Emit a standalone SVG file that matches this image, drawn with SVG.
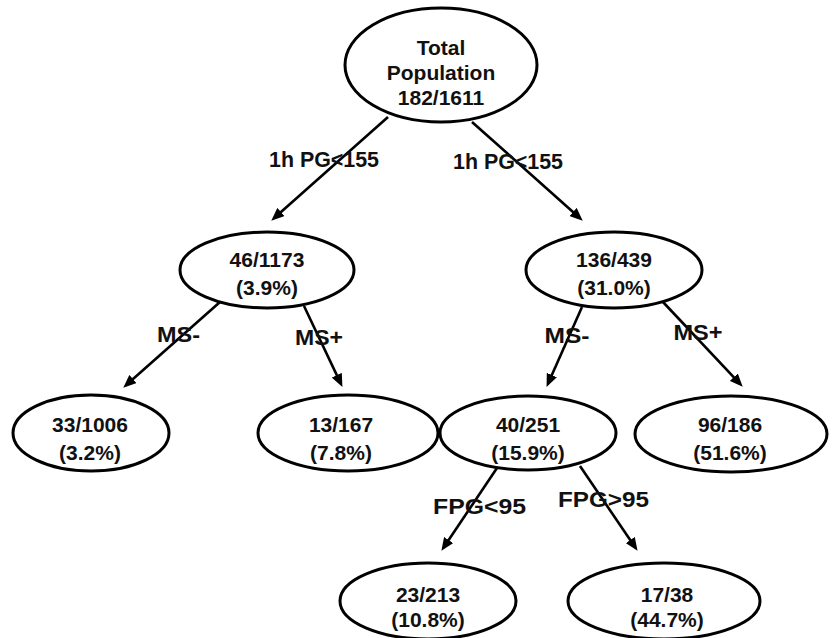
<svg xmlns="http://www.w3.org/2000/svg" width="835" height="638" viewBox="0 0 835 638">
<style>
  .node { fill: #ffffff; stroke: #000000; stroke-width: 3; }
  .t { font-family: "Liberation Sans", Arial, sans-serif; font-weight: bold; font-size: 21px; fill: #111111; text-anchor: middle; }
  .lbl { font-family: "Liberation Sans", Arial, sans-serif; font-weight: bold; font-size: 22px; fill: #111111; text-anchor: middle; }
  .edge { stroke: #000000; stroke-width: 2.6; fill: none; marker-end: url(#arrow); }
</style>
<defs>
  <marker id="arrow" markerUnits="userSpaceOnUse" markerWidth="13" markerHeight="11" refX="6" refY="5.5" orient="auto">
    <path d="M0,0 L13,5.5 L0,11 z" fill="#000000"/>
  </marker>
</defs>
<rect width="835" height="638" fill="#ffffff"/>
<g id="connectors">
  <line class="edge" x1="388" y1="117" x2="276.5" y2="216"/>
  <line class="edge" x1="472" y1="122" x2="577.5" y2="216"/>
  <line class="edge" x1="220" y1="302" x2="128.5" y2="383"/>
  <line class="edge" x1="304" y1="306" x2="339.4" y2="380.6"/>
  <line class="edge" x1="582" y1="307" x2="549.4" y2="380.5"/>
  <line class="edge" x1="663" y1="302" x2="737.9" y2="381.6"/>
  <line class="edge" x1="497" y1="468" x2="445.3" y2="545"/>
  <line class="edge" x1="580" y1="466" x2="633.6" y2="545"/>
  <text class="lbl" x="324" y="167" textLength="110" lengthAdjust="spacingAndGlyphs">1h PG&lt;155</text>
  <text class="lbl" x="508" y="169" textLength="110" lengthAdjust="spacingAndGlyphs">1h PG&lt;155</text>
  <text class="lbl" x="178.5" y="342" textLength="43" lengthAdjust="spacingAndGlyphs">MS-</text>
  <text class="lbl" x="319" y="345" textLength="48" lengthAdjust="spacingAndGlyphs">MS+</text>
  <text class="lbl" x="567" y="343" textLength="45" lengthAdjust="spacingAndGlyphs">MS-</text>
  <text class="lbl" x="698" y="340" textLength="49" lengthAdjust="spacingAndGlyphs">MS+</text>
  <text class="lbl" x="479.5" y="514" textLength="93" lengthAdjust="spacingAndGlyphs">FPG&lt;95</text>
  <text class="lbl" x="603.5" y="507" textLength="91" lengthAdjust="spacingAndGlyphs">FPG&gt;95</text>
</g>
<g id="root">
  <ellipse class="node" cx="441" cy="65" rx="96" ry="57"/>
  <text class="t" x="441" y="55">Total</text>
  <text class="t" x="441" y="80">Population</text>
  <text class="t" x="441" y="105">182/1611</text>
</g>
<g id="n_46_1173">
  <ellipse class="node" cx="267" cy="270" rx="87" ry="38"/>
  <text class="t" x="267" y="267">46/1173</text>
  <text class="t" x="267" y="295">(3.9%)</text>
</g>
<g id="n_136_439">
  <ellipse class="node" cx="614" cy="270" rx="88" ry="38"/>
  <text class="t" x="614" y="267">136/439</text>
  <text class="t" x="614" y="295">(31.0%)</text>
</g>
<g id="n_33_1006">
  <ellipse class="node" cx="91" cy="433" rx="78" ry="38"/>
  <text class="t" x="90" y="432">33/1006</text>
  <text class="t" x="90" y="460">(3.2%)</text>
</g>
<g id="n_13_167">
  <ellipse class="node" cx="348" cy="433" rx="90" ry="38"/>
  <text class="t" x="341" y="432">13/167</text>
  <text class="t" x="341" y="460">(7.8%)</text>
</g>
<g id="n_40_251">
  <ellipse class="node" cx="528" cy="433" rx="88" ry="37"/>
  <text class="t" x="528" y="432">40/251</text>
  <text class="t" x="528" y="460">(15.9%)</text>
</g>
<g id="n_96_186">
  <ellipse class="node" cx="731" cy="434" rx="96" ry="38"/>
  <text class="t" x="730" y="432">96/186</text>
  <text class="t" x="730" y="460">(51.6%)</text>
</g>
<g id="n_23_213">
  <ellipse class="node" cx="428" cy="601" rx="88" ry="38"/>
  <text class="t" x="428" y="602">23/213</text>
  <text class="t" x="428" y="627">(10.8%)</text>
</g>
<g id="n_17_38">
  <ellipse class="node" cx="664" cy="601" rx="96" ry="38"/>
  <text class="t" x="667" y="602">17/38</text>
  <text class="t" x="667" y="627">(44.7%)</text>
</g>
</svg>
